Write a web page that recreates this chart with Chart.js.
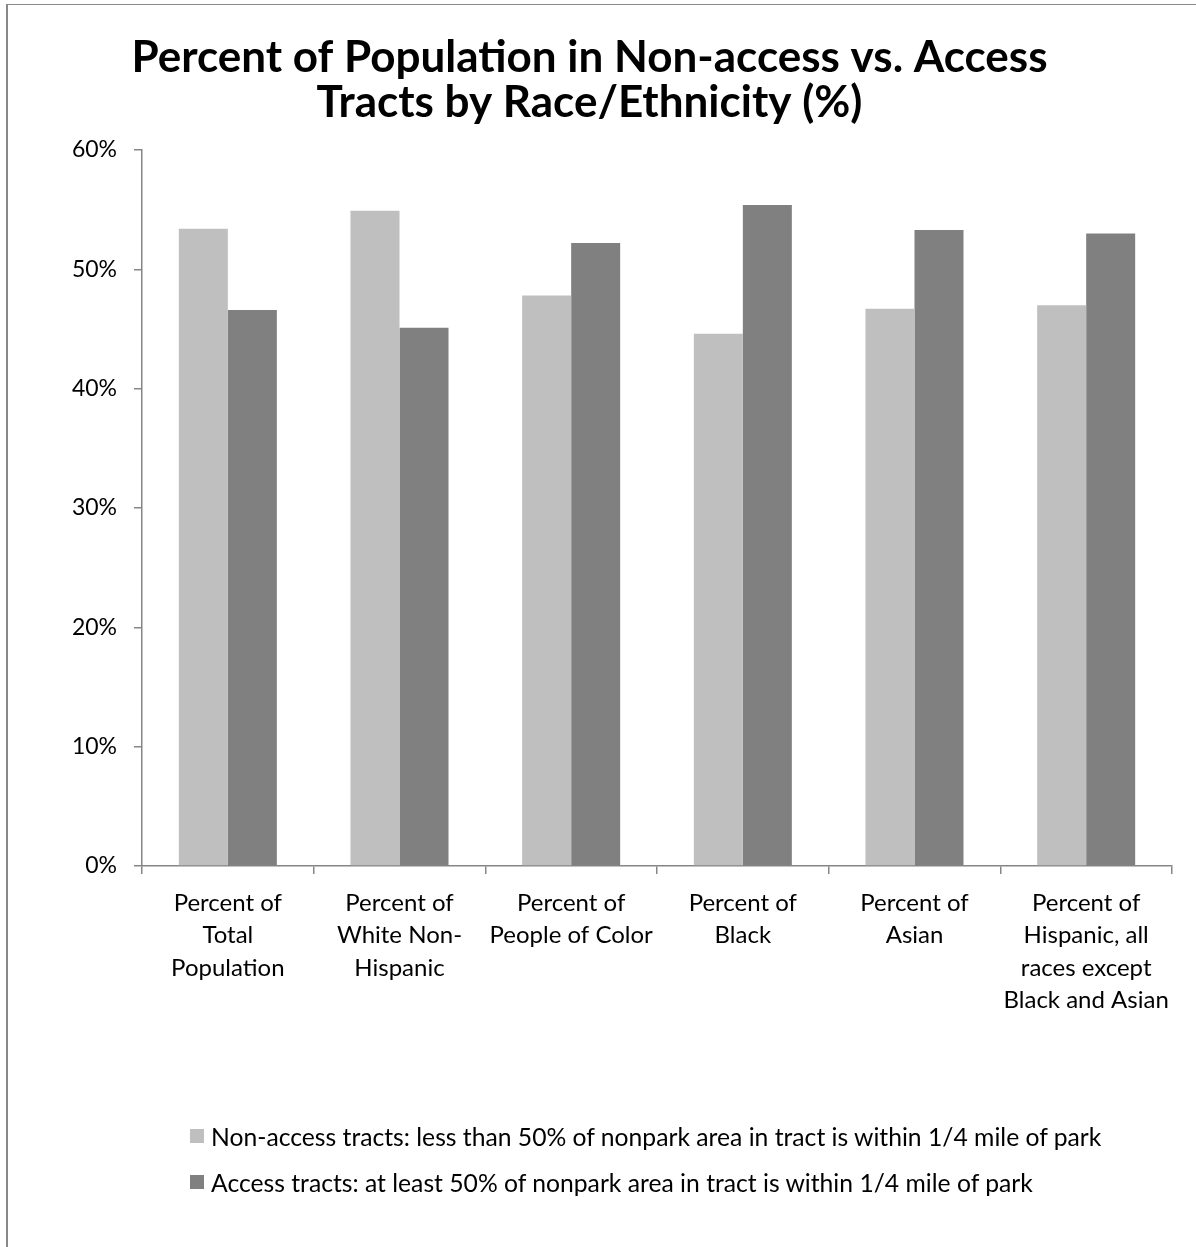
<!DOCTYPE html>
<html>
<head>
<meta charset="utf-8">
<script src="https://cdn.jsdelivr.net/npm/chart.js@4.4.0/dist/chart.umd.min.js"></script>
<style>
  html, body { margin: 0; padding: 0; background: #fff; }
  #wrap { position: relative; width: 1196px; height: 1247px; overflow: hidden; }
  #frame { position: absolute; left: 6px; top: 4px; width: 1300px; height: 1300px;
           border-left: 2px solid #898989; border-top: 1.5px solid #898989; box-sizing: border-box; }
  #chart { position: absolute; left: 0; top: 0; }
  #legend { position: absolute; left: 190px; top: 1113px; font-family: Lato, sans-serif; font-size: 24.7px; color: #000; }
  #legend .row { height: 46px; display: flex; align-items: center; }
  #legend .box { width: 14px; height: 14px; margin-right: 7px; }
</style>
</head>
<body>
<div id="wrap">
  <div id="frame"></div>
  <canvas id="chart" width="1196" height="1247"></canvas>
  <div id="legend"></div>
</div>
<script>
// chart data
const categories = [
    ['Percent of', 'Total', 'Population'],
    ['Percent of', 'White Non-', 'Hispanic'],
    ['Percent of', 'People of Color'],
    ['Percent of', 'Black'],
    ['Percent of', 'Asian'],
    ['Percent of', 'Hispanic, all', 'races except', 'Black and Asian']
];
const nonAccess = [53.4, 54.9, 47.8, 44.6, 46.7, 47.0];
const access = [46.6, 45.1, 52.2, 55.4, 53.3, 53.0];
const seriesNames = [
    'Non-access tracts: less than 50% of nonpark area in tract is within 1/4 mile of park',
    'Access tracts: at least 50% of nonpark area in tract is within 1/4 mile of park'
];
const yTicks = [0, 10, 20, 30, 40, 50, 60];

const axisGray = '#868686';
const fontName = 'Lato, "Open Sans", sans-serif';

const ctx = document.getElementById('chart').getContext('2d');
const chart = new Chart(ctx, {
    type: 'bar',
    data: {
        labels: categories,
        datasets: [{
            label: seriesNames[0],
            data: nonAccess,
            backgroundColor: '#BFBFBF'
        }, {
            label: seriesNames[1],
            data: access,
            backgroundColor: '#808080'
        }]
    },
    options: {
        responsive: false,
        animation: false,
        devicePixelRatio: 1,
        layout: { padding: { top: 0, left: 7, right: 24, bottom: 231 } },
        datasets: {
            bar: { categoryPercentage: 0.571, barPercentage: 1.0 }
        },
        plugins: {
            legend: { display: false },
            tooltip: { enabled: false },
            title: {
                display: true,
                text: ['Percent of Population in Non-access vs. Access', 'Tracts by Race/Ethnicity (%)'],
                color: '#000',
                font: { family: fontName, size: 44, weight: 'bold', lineHeight: 45 / 44 },
                padding: { top: 35, bottom: 25 }
            }
        },
        scales: {
            x: {
                grid: { drawOnChartArea: false, tickLength: 8, color: axisGray, lineWidth: 1.5 },
                border: { color: axisGray, width: 1.5 },
                ticks: {
                    color: '#000',
                    padding: 13,
                    maxRotation: 0,
                    autoSkip: false,
                    font: { family: fontName, size: 24, lineHeight: 1.354 }
                },
                afterFit: s => { s.height = 150; }
            },
            y: {
                min: 0,
                max: 60,
                afterBuildTicks: s => { s.ticks = yTicks.map(v => ({ value: v })); },
                grid: { drawOnChartArea: false, tickLength: 8, color: axisGray, lineWidth: 1.5 },
                border: { color: axisGray, width: 1.5 },
                ticks: {
                    color: '#000',
                    padding: 17,
                    font: { family: fontName, size: 23 },
                    callback: v => v + '%'
                },
                afterFit: s => { s.width = 135; }
            }
        }
    }
});

// legend list, stacked like the original
const legendEl = document.getElementById('legend');
chart.data.datasets.forEach(ds => {
    const row = document.createElement('div');
    row.className = 'row';
    const box = document.createElement('span');
    box.className = 'box';
    box.style.background = ds.backgroundColor;
    row.appendChild(box);
    row.appendChild(document.createTextNode(ds.label));
    legendEl.appendChild(row);
});
</script>
</body>
</html>
